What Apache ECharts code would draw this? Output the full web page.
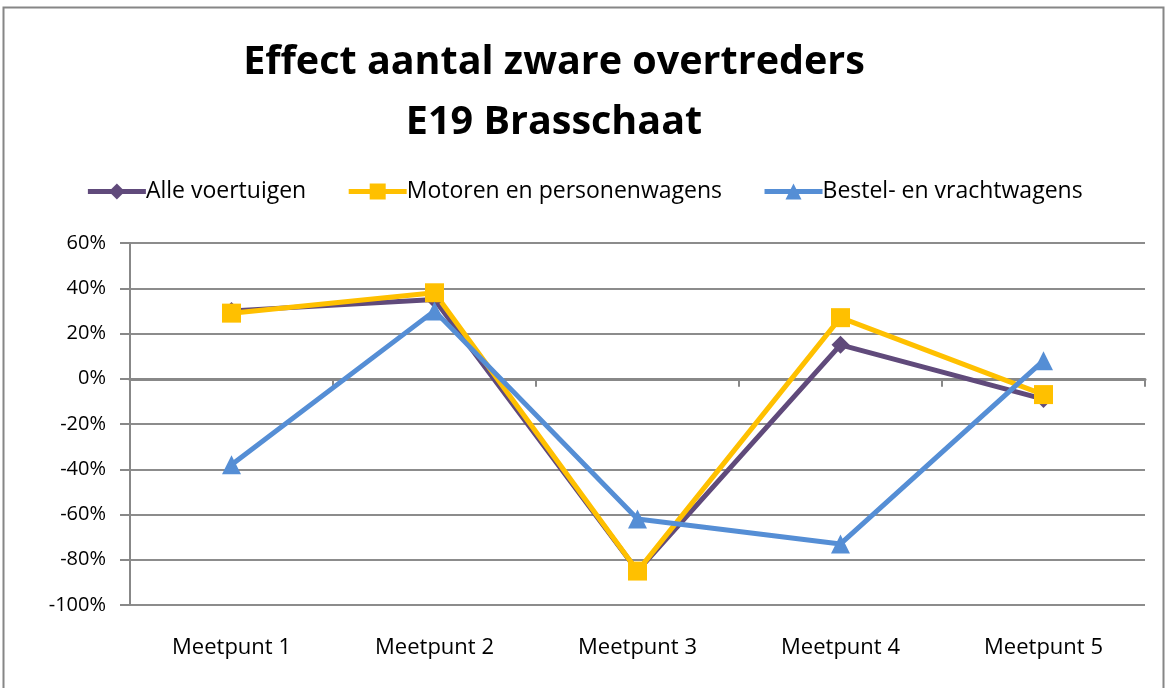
<!DOCTYPE html>
<html><head><meta charset="utf-8">
<script src="https://cdn.jsdelivr.net/npm/echarts@6/dist/echarts.min.js"></script>
<style>html,body{margin:0;padding:0;background:#fff}#c{width:1168px;height:688px}</style>
</head><body><div id="c"></div>
<script>
const titleLines = ['Effect aantal zware overtreders', 'E19 Brasschaat'];
const categories = ['Meetpunt 1', 'Meetpunt 2', 'Meetpunt 3', 'Meetpunt 4', 'Meetpunt 5'];
const seriesNames = ['Alle voertuigen', 'Motoren en personenwagens', 'Bestel- en vrachtwagens'];
const alleVoertuigen = [30, 35, -85, 15, -9];
const motorenPersonenwagens = [29, 38, -85, 27, -7];
const bestelVrachtwagens = [-38, 30, -62, -73, 8];
const yTicks = [-100, -80, -60, -40, -20, 0, 20, 40, 60];

const FONT = 'Open Sans';
const chart = echarts.init(document.getElementById('c'), null, {renderer: 'canvas'});
const mk = (name, data, color, symbol, size) => ({
  name, type: 'line', data, xAxisIndex: 0,
  symbol, symbolSize: size,
  lineStyle: {color, width: 5},
  itemStyle: {color},
  emphasis: {disabled: true},
  z: 5
});
chart.setOption({
  animation: false,
  backgroundColor: '#fff',
  graphic: [{
    type: 'rect', shape: {x: 3.5, y: 7.5, width: 1160, height: 700},
    style: {fill: null, stroke: '#868686', lineWidth: 2}, silent: true
  }],
  title: {
    text: titleLines.join('\n'), left: 549, textAlign: 'center', top: 28,
    textStyle: {fontFamily: FONT, fontWeight: 'bold', fontSize: 39.5, lineHeight: 60, color: '#000'}
  },
  legend: {
    top: 175, left: 'center', itemGap: 40, itemWidth: 58, itemHeight: 20,
    lineStyle: {width: 5},
    textStyle: {fontFamily: FONT, fontSize: 23, color: '#000', padding: [0, 0, 0, -5]},
    data: seriesNames
  },
  grid: {left: 130, right: 23, top: 243, bottom: 83, containLabel: false},
  xAxis: [{
    type: 'category', data: categories, position: 'bottom',
    axisLine: {show: false, onZero: false}, axisTick: {show: false},
    axisLabel: {fontFamily: FONT, fontSize: 22, color: '#000', margin: 32}
  }, {
    type: 'category', data: categories, position: 'bottom',
    axisLine: {show: true, onZero: true, lineStyle: {color: '#888', width: 3}},
    axisTick: {show: true, length: 8, lineStyle: {color: '#888', width: 2}},
    axisLabel: {show: false}
  }],
  yAxis: {
    type: 'value', min: -100, max: 60, interval: 20,
    axisLine: {show: true, lineStyle: {color: '#888', width: 2}},
    axisTick: {show: true, length: 10, lineStyle: {color: '#888', width: 2}},
    splitLine: {lineStyle: {color: '#8c8c8c', width: 2}},
    axisLabel: {fontFamily: FONT, fontSize: 20, color: '#000', margin: 24,
      formatter: v => yTicks.includes(v) ? v + '%' : ''}
  },
  series: [
    mk(seriesNames[0], alleVoertuigen, '#604A7B', 'diamond', 18),
    mk(seriesNames[1], motorenPersonenwagens, '#FFC000', 'rect', 19),
    mk(seriesNames[2], bestelVrachtwagens, '#558ED5', 'triangle', 19)
  ]
});
</script></body></html>
